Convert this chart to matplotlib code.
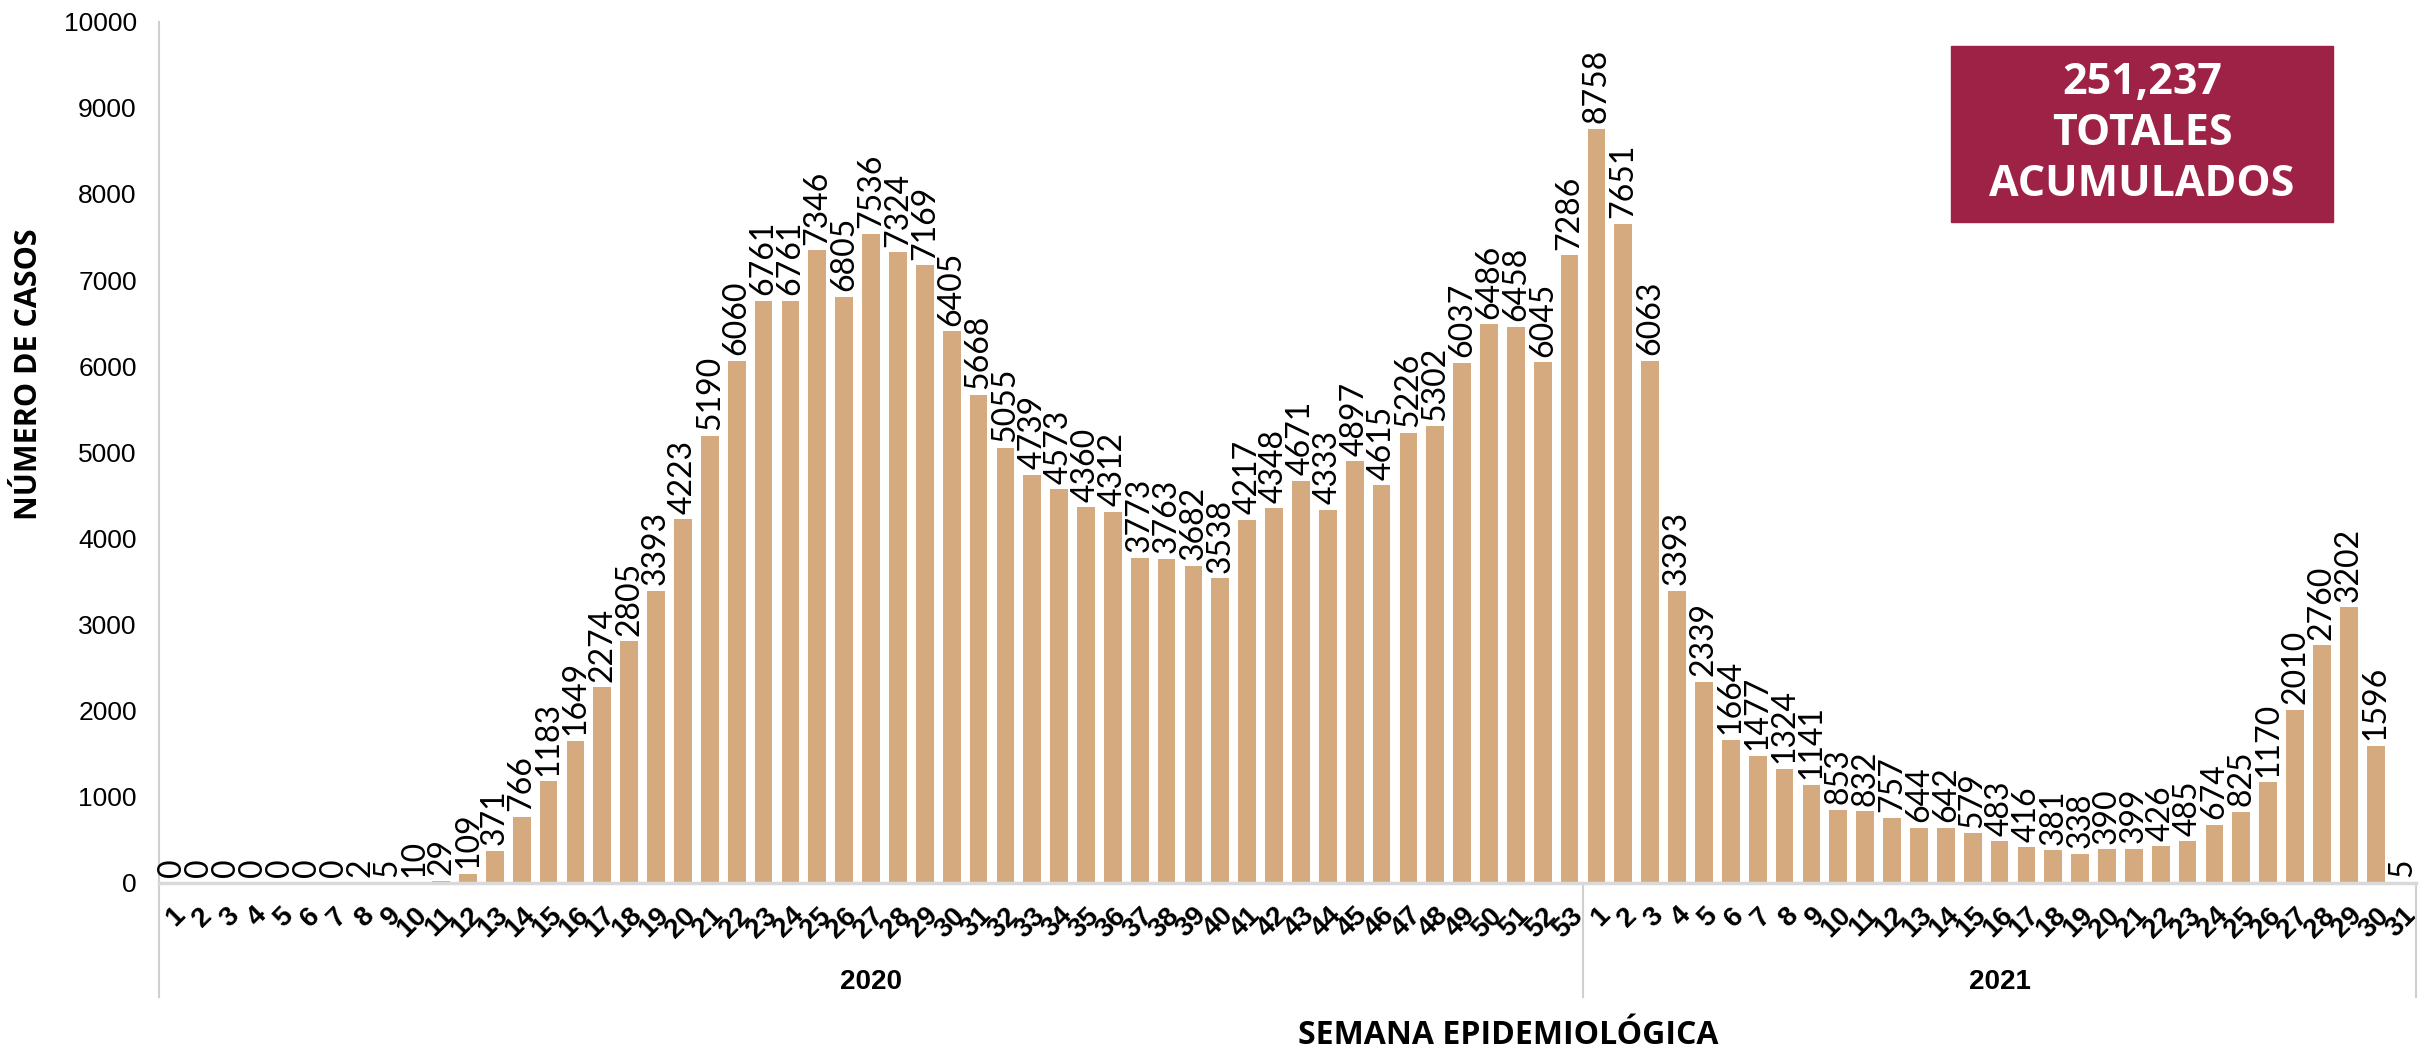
import numpy as np
from matplotlib import pyplot as plt
from matplotlib.patches import Rectangle
from matplotlib import transforms


# DATOS

# casos por semana epidemiologica, 2020 (semanas 1-53)
casos_2020 = [0, 0, 0, 0, 0, 0, 0, 2, 5, 10, 29, 109, 371, 766, 1183, 1649, 2274,
              2805, 3393, 4223, 5190, 6060, 6761, 6761, 7346, 6805, 7536, 7324, 7169,
              6405, 5668, 5055, 4739, 4573, 4360, 4312, 3773, 3763, 3682, 3538, 4217,
              4348, 4671, 4333, 4897, 4615, 5226, 5302, 6037, 6486, 6458, 6045, 7286]

# casos por semana epidemiologica, 2021 (semanas 1-31)
casos_2021 = [8758, 7651, 6063, 3393, 2339, 1664, 1477, 1324, 1141, 853, 832, 757,
              644, 642, 579, 483, 416, 381, 338, 390, 399, 426, 485, 674, 825, 1170,
              2010, 2760, 3202, 1596, 5]

semanas_2020 = [str(s) for s in range(1, 54)]
semanas_2021 = [str(s) for s in range(1, 32)]
anios = ["2020", "2021"]

total_texto = ["251,237", "TOTALES", "ACUMULADOS"]
y_ticks = list(range(0, 10001, 1000))


# ESTILO

BAR_COLOR = "#D5AA7F"
BOX_COLOR = "#9E2246"
GRID_GRAY = "#d0d0d0"
W, H = 2425, 1054

NUM_FONT = ["Liberation Sans", "DejaVu Sans"]
TITLE_FONT = ["Open Sans", "DejaVu Sans"]
LABEL_FONT = ["Lato", "DejaVu Sans"]


casos = casos_2020 + casos_2021
semanas = semanas_2020 + semanas_2021
x = np.arange(len(casos))

fig = plt.figure(figsize=(W / 100, H / 100), dpi=100)
ax = fig.add_axes([159 / W, 1 - 883 / H, (2416 - 159) / W, (883 - 21.6) / H])

ax.bar(x, casos, width=0.66, color=BAR_COLOR, zorder=2)

# etiquetas de valor encima de cada barra
for xi, v in zip(x, casos):
    ax.annotate(str(v), (xi, v), xytext=(0, 4), textcoords="offset points",
                rotation=90, ha="center", va="bottom", fontsize=23,
                family=LABEL_FONT, fontweight="normal", color="black")

ax.set_xlim(-0.5, len(casos) - 0.5)
ax.set_ylim(0, 10000)

ax.set_yticks(y_ticks)
ax.set_yticklabels([str(t) for t in y_ticks], family=NUM_FONT, fontsize=19)
ax.tick_params(axis="y", length=0, pad=16)

ax.set_xticks(x)
ax.set_xticklabels(semanas, rotation=45, ha="right", va="top",
                   rotation_mode="anchor", family=NUM_FONT, fontsize=20,
                   fontweight="bold")
ax.tick_params(axis="x", length=0, pad=14)

for s in ["top", "right", "left"]:
    ax.spines[s].set_visible(False)
ax.spines["bottom"].set_color("#d9d9d9")
ax.spines["bottom"].set_linewidth(2.5)
ax.spines["bottom"].set_zorder(3)

# lineas de agrupacion por anio
trans = transforms.blended_transform_factory(ax.transData, ax.transAxes)
n20 = len(casos_2020)
ax.plot([-0.5, -0.5], [1.0, -0.132], transform=trans, color=GRID_GRAY, lw=1.5, clip_on=False)
ax.plot([n20 - 0.5, n20 - 0.5], [0, -0.132], transform=trans, color=GRID_GRAY, lw=1.5, clip_on=False)
ax.plot([len(casos) - 0.5, len(casos) - 0.5], [0, -0.132], transform=trans, color=GRID_GRAY, lw=1.5, clip_on=False)

centros = [(n20 - 1) / 2, n20 + (len(casos_2021) - 1) / 2]
for c, a in zip(centros, anios):
    ax.text(c, -0.115, a, transform=trans, ha="center", va="center",
            family=NUM_FONT, fontsize=20, fontweight="bold")

# titulos de ejes
fig.text(29 / W, 1 - 374 / H, "NÚMERO DE CASOS", rotation=90, ha="center", va="center",
         family=TITLE_FONT, fontsize=22, fontweight="bold")
fig.text(1508 / W, 1 - 1036 / H, "SEMANA EPIDEMIOLÓGICA", ha="center", va="center",
         family=TITLE_FONT, fontsize=23, fontweight="bold")

# recuadro de total acumulado
fig.patches.append(Rectangle((1951 / W, 1 - 222 / H), (2333 - 1951) / W, (222 - 46) / H,
                             transform=fig.transFigure, color=BOX_COLOR, zorder=0))
for i, t in enumerate(total_texto):
    fig.text(2142 / W, 1 - (83 + 50.5 * i) / H, t, ha="center", va="center",
             family=TITLE_FONT, fontsize=31, fontweight="bold", color="white")

plt.savefig("out.png", dpi=100)
